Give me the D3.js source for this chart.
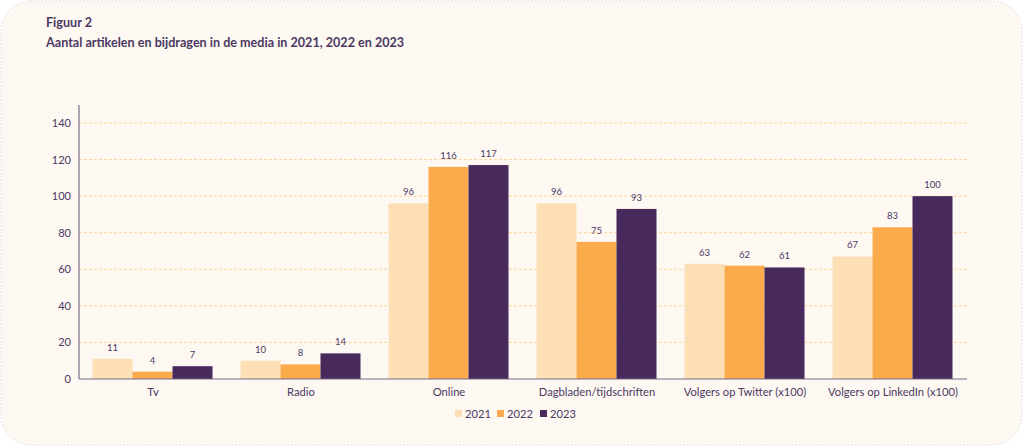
<!DOCTYPE html>
<html><head><meta charset="utf-8">
<script src="https://cdn.jsdelivr.net/npm/d3@7"></script>
<style>
html,body{margin:0;padding:0;background:#ffffff;}
svg{display:block;font-family:Lato, "Open Sans", sans-serif;}
</style></head>
<body>
<svg id="chart" width="1024" height="447"></svg>
<script>
const categories = ["Tv","Radio","Online","Dagbladen/tijdschriften","Volgers op Twitter (x100)","Volgers op LinkedIn (x100)"];
const seriesNames = ["2021","2022","2023"];
const values2021 = [11,10,96,96,63,67];
const values2022 = [4,8,116,75,62,83];
const values2023 = [7,14,117,93,61,100];
const yTicks = [0,20,40,60,80,100,120,140];
const colors = ["#fddfb6","#fbab4b","#47295c"];
const textColor = "#4b3862";

(function(){
const svg = d3.select("#chart");
svg.append("rect").attr("x",1).attr("y",1).attr("width",1021).attr("height",444)
  .attr("rx",30).attr("ry",30).attr("fill","#fdf8f2")
  .attr("stroke","#dcd6de").attr("stroke-width",1).attr("stroke-dasharray","1.5,2");

svg.append("text").attr("x",46).attr("y",27).attr("fill",textColor)
  .attr("font-size",12.6).attr("font-weight","bold").text("Figuur 2");
svg.append("text").attr("x",46).attr("y",47).attr("fill",textColor)
  .attr("font-size",12.6).attr("font-weight","bold").text("Aantal artikelen en bijdragen in de media in 2021, 2022 en 2023");

const mLeft = 79, mRight = 967, mTop = 105, mBottom = 379;
const x = d3.scaleBand().domain(categories).range([mLeft,mRight]).paddingInner(0).paddingOuter(0);
const y = d3.scaleLinear().domain([0,140]).range([mBottom,123]);
const xs = d3.scaleBand().domain(seriesNames).range([13.5, x.bandwidth()-14.5]).padding(0);

svg.append("g").selectAll("line").data(yTicks.filter(d=>d>0)).join("line")
  .attr("x1",mLeft).attr("x2",mRight).attr("y1",d=>y(d)).attr("y2",d=>y(d))
  .attr("stroke","#fbd49a").attr("stroke-width",1).attr("stroke-dasharray","3,2");

const data = [values2021, values2022, values2023];
const g = svg.append("g");
categories.forEach((c,i)=>{
  seriesNames.forEach((s,j)=>{
    const v = data[j][i];
    g.append("rect").attr("x",x(c)+xs(s)).attr("y",y(v))
      .attr("width",xs.bandwidth()).attr("height",mBottom-y(v))
      .attr("fill",colors[j]);
    g.append("text").attr("x",x(c)+xs(s)+xs.bandwidth()/2).attr("y",y(v)-8)
      .attr("text-anchor","middle").attr("font-size",9.5).attr("fill",textColor).text(v);
  });
});

const yAxis = d3.axisLeft(y).tickValues(yTicks).tickSize(0).tickPadding(8);
const ya = svg.append("g").attr("transform",`translate(${mLeft},0)`).call(yAxis);
ya.select(".domain").remove();
ya.selectAll("text").attr("font-size",11).attr("fill",textColor).attr("font-family","Lato, sans-serif");
svg.append("line").attr("x1",mLeft).attr("x2",mLeft).attr("y1",mTop).attr("y2",mBottom)
  .attr("stroke","#7d6a8c").attr("stroke-width",1.2);
const xAxis = d3.axisBottom(x).tickSize(0).tickPadding(9);
const xa = svg.append("g").attr("transform",`translate(0,${mBottom})`).call(xAxis);
xa.select(".domain").remove();
xa.selectAll("text").attr("font-size",11.2).attr("fill",textColor).attr("font-family","Lato, sans-serif");
svg.append("line").attr("x1",mLeft).attr("x2",mRight).attr("y1",mBottom).attr("y2",mBottom)
  .attr("stroke","#7d6a8c").attr("stroke-width",1.2);

const legendX = [455,497,540];
const lg = svg.append("g");
seriesNames.forEach((s,j)=>{
  lg.append("rect").attr("x",legendX[j]).attr("y",410).attr("width",7).attr("height",7).attr("fill",colors[j]);
  lg.append("text").attr("x",legendX[j]+10).attr("y",418).attr("font-size",11.2).attr("fill",textColor).text(s);
});
})();
</script>
</body></html>
